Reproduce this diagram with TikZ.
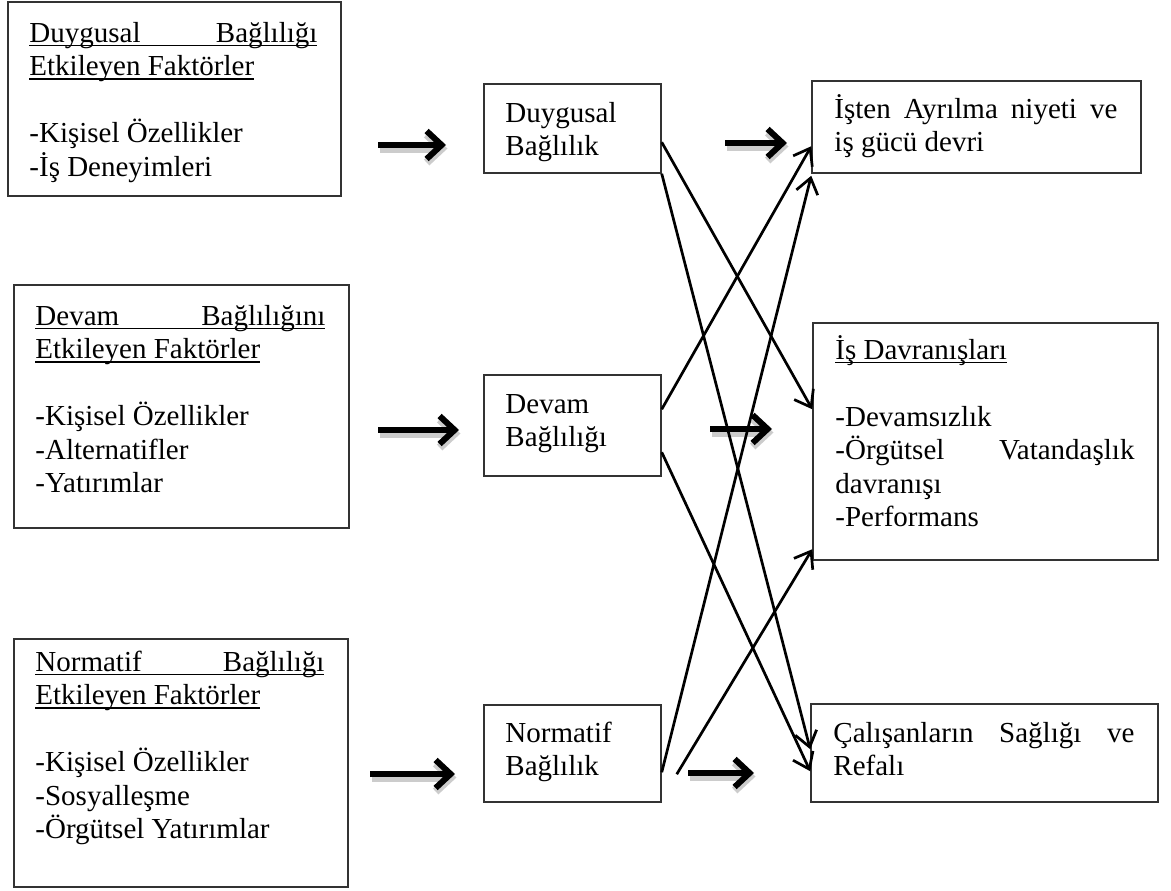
\documentclass[tikz,border=0pt]{standalone}
\usepackage{fontspec}
\setmainfont{Liberation Serif}
\usetikzlibrary{arrows.meta,calc}
\newcommand{\ulx}[1]{\leavevmode\setbox0\hbox{#1}\rlap{\rule[-4pt]{\wd0}{1.4pt}}\box0}
\tikzset{
  box/.style={draw=black!80, line width=1.5pt, rectangle, inner sep=0pt},
  txt/.style={anchor=base west, inner sep=0pt, font=\fontsize{29}{33.5}\selectfont},
  link/.style={line width=2.7pt, -{Straight Barb[length=15pt,width=22pt]}},
  bigarrow/.style={line width=6pt, -{Straight Barb[length=15pt,width=28pt]},
    preaction={draw=black!20, line width=8pt, transform canvas={shift={(1.5pt,-3.5pt)}}}},
}
\begin{document}
\begin{tikzpicture}[x=1pt,y=-1pt]
\useasboundingbox (0,0) rectangle (1171,891);
% boxes
\node[box, minimum width=333pt, minimum height=194pt] (l1) at (174.5,99) {};
\node[box, minimum width=335pt, minimum height=243pt] (l2) at (181.5,406.5) {};
\node[box, minimum width=334pt, minimum height=248pt] (l3) at (181,763) {};
\node[box, minimum width=177pt, minimum height=89pt] (m1) at (572.5,128.5) {};
\node[box, minimum width=177pt, minimum height=101pt] (m2) at (572.5,425.5) {};
\node[box, minimum width=177pt, minimum height=97pt] (m3) at (572.5,753.5) {};
\node[box, minimum width=329pt, minimum height=92pt] (r1) at (976.5,127) {};
\node[box, minimum width=345pt, minimum height=237pt] (r2) at (985.5,441.5) {};
\node[box, minimum width=347pt, minimum height=98pt] (r3) at (984.5,753) {};
% texts
\node[txt] (t1) at ([xshift=22pt,yshift=-41pt]l1.north west) {\parbox[t]{300pt}{%
\ulx{\makebox[288pt][s]{Duygusal Bağlılığı}}\\
\ulx{Etkileyen Faktörler}\\
\mbox{}\\
-Kişisel Özellikler\\
-İş Deneyimleri}};
\node[txt] (t2) at ([xshift=22pt,yshift=-41pt]l2.north west) {\parbox[t]{300pt}{%
\ulx{\makebox[290pt][s]{Devam Bağlılığını}}\\
\ulx{Etkileyen Faktörler}\\
\mbox{}\\
-Kişisel Özellikler\\
-Alternatifler\\
-Yatırımlar}};
\node[txt] (t3) at ([xshift=22pt,yshift=-33pt]l3.north west) {\parbox[t]{300pt}{%
\ulx{\makebox[289pt][s]{Normatif Bağlılığı}}\\
\ulx{Etkileyen Faktörler}\\
\mbox{}\\
-Kişisel Özellikler\\
-Sosyalleşme\\
-Örgütsel Yatırımlar}};
\node[txt] (t4) at ([xshift=22pt,yshift=-39pt]m1.north west) {\parbox[t]{150pt}{Duygusal\\Bağlılık}};
\node[txt] (t5) at ([xshift=22pt,yshift=-39pt]m2.north west) {\parbox[t]{150pt}{Devam\\Bağlılığı}};
\node[txt] (t6) at ([xshift=22pt,yshift=-38pt]m3.north west) {\parbox[t]{150pt}{Normatif\\Bağlılık}};
\node[txt] (t7) at ([xshift=23pt,yshift=-38pt]r1.north west) {\parbox[t]{300pt}{%
\makebox[283pt][s]{İşten Ayrılma niyeti ve}\\
iş gücü devri}};
\node[txt] (t8) at ([xshift=23pt,yshift=-37pt]r2.north west) {\parbox[t]{310pt}{%
\ulx{İş Davranışları}\\
\mbox{}\\
-Devamsızlık\\
\makebox[299pt][s]{-Örgütsel Vatandaşlık}\\
davranışı\\
-Performans}};
\node[txt] (t9) at ([xshift=23pt,yshift=-39pt]r3.north west) {\parbox[t]{310pt}{%
\makebox[301pt][s]{Çalışanların Sağlığı ve}\\
Refalı}};
% thick arrows
\coordinate (a1s) at (378,145); \coordinate (a1e) at (446,145);
\coordinate (a2s) at (378,430); \coordinate (a2e) at (459,430);
\coordinate (a3s) at (370,774); \coordinate (a3e) at (455,774);
\coordinate (b1s) at (725,143); \coordinate (b1e) at (787,143);
\coordinate (b2s) at (710,429); \coordinate (b2e) at (772,429);
\coordinate (b3s) at (688,773); \coordinate (b3e) at (754,773);
\foreach \p in {a1,a2,a3,b1,b2,b3} \draw[bigarrow] (\p s) -- (\p e);
% thin connectors
\draw[link] ([yshift=-59pt]m1.north east) -- ([yshift=-87pt]r2.north west);
\draw[link] (m1.south east) -- ([yshift=-46pt]r3.north west);
\draw[link] ([yshift=-35pt]m2.north east) -- ([yshift=-66pt]r1.north west);
\draw[link] ([yshift=-78pt]m2.north east) -- ([yshift=-68pt]r3.north west);
\draw[link] ([yshift=-68pt]m3.north east) -- ([yshift=-2pt]r1.south west);
\draw[link] ([xshift=15pt,yshift=-70pt]m3.north east) -- ([yshift=-227pt]r2.north west);
\end{tikzpicture}
\end{document}
